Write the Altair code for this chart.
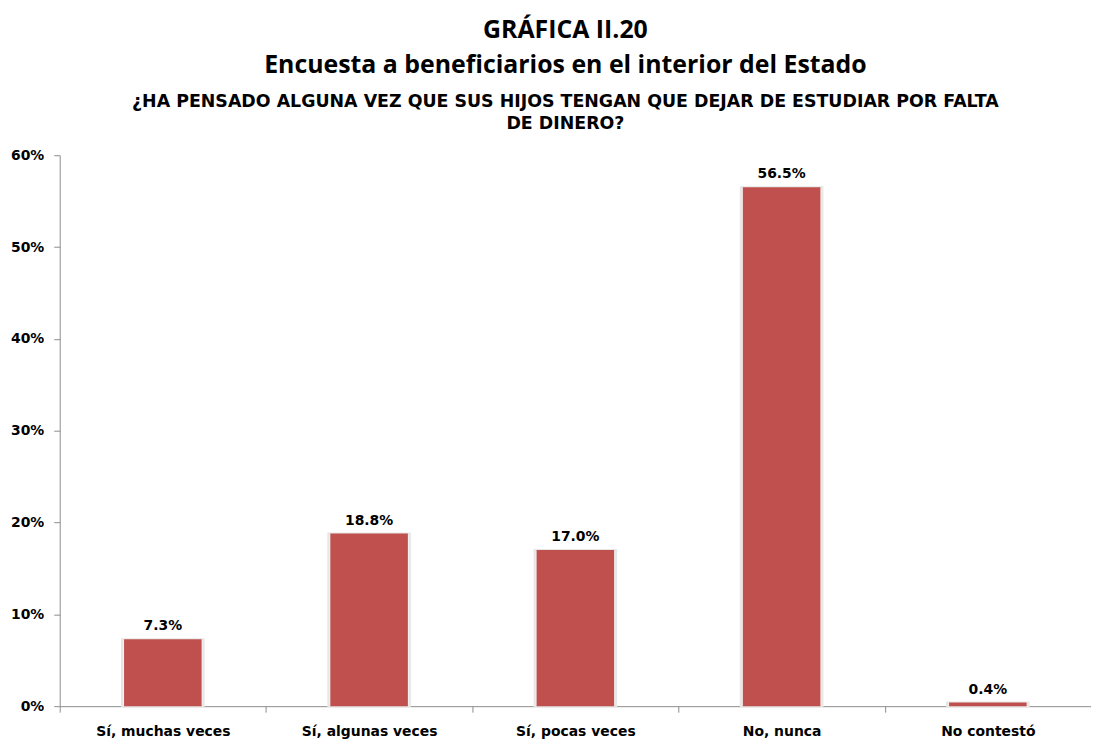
import altair as alt
import pandas as pd

categories = ["Sí, muchas veces", "Sí, algunas veces", "Sí, pocas veces", "No, nunca", "No contestó"]
values = [7.3, 18.8, 17.0, 56.5, 0.4]
labels = ["7.3%", "18.8%", "17.0%", "56.5%", "0.4%"]
y_ticks = [0, 10, 20, 30, 40, 50, 60]

df = pd.DataFrame({"cat": categories, "val": values, "lab": labels})

x = alt.X("cat:N", sort=categories, title=None,
          scale=alt.Scale(paddingInner=0, paddingOuter=0),
          axis=alt.Axis(labelAngle=0, tickBand="extent", domainColor="#8c8c8c",
                        tickColor="#8c8c8c", tickSize=6, labelPadding=12,
                        labelFont="DejaVu Sans", labelFontWeight="bold",
                        labelFontSize=14, labelColor="#000000", grid=False))
y = alt.Y("val:Q", title=None,
          scale=alt.Scale(domain=[0, 60], nice=False),
          axis=alt.Axis(values=y_ticks, labelExpr="datum.value + '%'", domainColor="#8c8c8c",
                        tickColor="#8c8c8c", tickSize=6, labelPadding=10,
                        labelFont="DejaVu Sans", labelFontWeight="bold",
                        labelFontSize=14, labelColor="#000000", grid=False))

base = alt.Chart(df)
glow = base.mark_bar(size=82, color="#f4f4f4", stroke="#e6e6e6", strokeWidth=2).encode(x=x, y=y)
bars = base.mark_bar(size=78, color="#C0504D").encode(x=x, y=y)
text = base.mark_text(baseline="bottom", dy=-6, font="DejaVu Sans", fontWeight="bold",
                      fontSize=14, color="#000000").encode(x=x, y=y, text="lab:N")

chart = alt.layer(glow, bars, text).properties(
    width=1037, height=554,
    autosize=alt.AutoSizeParams(type="none"),
    padding={"left": 52, "top": 146, "right": 0, "bottom": 36},
    title=alt.TitleParams(
        text=["GRÁFICA II.20", "Encuesta a beneficiarios en el interior del Estado"],
        subtitle=["¿HA PENSADO ALGUNA VEZ QUE SUS HIJOS TENGAN QUE DEJAR DE ESTUDIAR POR FALTA", "DE DINERO?"],
        font="Open Sans", fontSize=25, fontWeight="bold", color="#000000", lineHeight=35,
        subtitleFont="DejaVu Sans", subtitleFontSize=17.5, subtitleFontWeight="bold",
        subtitleColor="#000000", subtitleLineHeight=22, subtitlePadding=15,
        anchor="middle", offset=16, dx=-10,
    ),
).configure_view(stroke=None)

chart.save("out.html", embed_options={"renderer": "svg", "actions": False})
